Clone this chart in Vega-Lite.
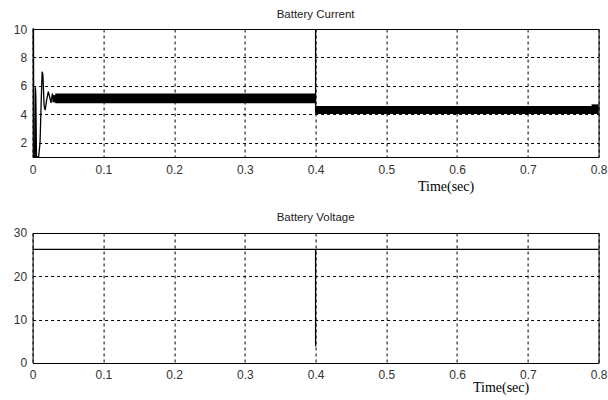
{
  "$schema": "https://vega.github.io/schema/vega-lite/v6.json",
  "autosize": {"type": "pad"},
  "padding": {"left": 12.6, "top": 8, "right": 5, "bottom": 5},
  "background": "white",
  "bounds": "flush",
  "spacing": 76,
  "datasets": {
    "curLine": [
      {"seg": "a", "i": 0, "t": 0.0, "v": 10},
      {"seg": "a", "i": 1, "t": 0.0012, "v": 10},
      {"seg": "a", "i": 2, "t": 0.0018, "v": 1.0},
      {"seg": "a", "i": 3, "t": 0.0035, "v": 1.0},
      {"seg": "a", "i": 4, "t": 0.004, "v": 5.9},
      {"seg": "a", "i": 5, "t": 0.0046, "v": 5.2},
      {"seg": "a", "i": 6, "t": 0.0055, "v": 1.0},
      {"seg": "a", "i": 7, "t": 0.0085, "v": 1.0},
      {"seg": "a", "i": 8, "t": 0.0105, "v": 2.0},
      {"seg": "a", "i": 9, "t": 0.0122, "v": 5.0},
      {"seg": "a", "i": 10, "t": 0.0135, "v": 7.0},
      {"seg": "a", "i": 11, "t": 0.0145, "v": 6.8},
      {"seg": "a", "i": 12, "t": 0.0163, "v": 4.6},
      {"seg": "a", "i": 13, "t": 0.0178, "v": 4.3},
      {"seg": "a", "i": 14, "t": 0.0198, "v": 5.0},
      {"seg": "a", "i": 15, "t": 0.0222, "v": 5.6},
      {"seg": "a", "i": 16, "t": 0.0242, "v": 5.2},
      {"seg": "a", "i": 17, "t": 0.026, "v": 4.8},
      {"seg": "a", "i": 18, "t": 0.028, "v": 5.45},
      {"seg": "a", "i": 19, "t": 0.03, "v": 4.85},
      {"seg": "b", "i": 0, "t": 0.4, "v": 4.8},
      {"seg": "b", "i": 1, "t": 0.4, "v": 10},
      {"seg": "b", "i": 2, "t": 0.4, "v": 4.05}
    ],
    "curBand": [
      {"t0": 0.028, "t1": 0.04, "lo": 4.85, "hi": 5.35},
      {"t0": 0.032, "t1": 0.4, "lo": 4.78, "hi": 5.47},
      {"t0": 0.4, "t1": 0.8, "lo": 4.02, "hi": 4.58},
      {"t0": 0.79, "t1": 0.8, "lo": 4.3, "hi": 4.7}
    ],
    "volt": [
      {"i": 0, "t": 0.0, "v": 26.2},
      {"i": 1, "t": 0.4, "v": 26.2},
      {"i": 2, "t": 0.4, "v": 3.8},
      {"i": 3, "t": 0.4, "v": 26.2},
      {"i": 4, "t": 0.8, "v": 26.2}
    ]
  },
  "config": {
    "view": {"stroke": "black", "strokeWidth": 1},
    "axis": {
      "grid": true,
      "gridColor": "black",
      "gridDash": [3, 3],
      "gridOpacity": 1,
      "gridWidth": 1,
      "domain": false,
      "ticks": false,
      "labelFlush": false,
      "labelOverlap": false,
      "labelFont": "Liberation Sans",
      "labelFontSize": 12,
      "labelColor": "#333333",
      "titleFont": "Liberation Serif",
      "titleFontSize": 14,
      "titleFontWeight": "normal",
      "titleColor": "black"
    },
    "title": {
      "font": "Liberation Sans",
      "fontSize": 11.5,
      "fontWeight": "normal",
      "color": "#222222",
      "offset": 3
    }
  },
  "vconcat": [
    {
      "width": 566,
      "height": 128,
      "title": {"text": "Battery Current"},
      "layer": [
        {
          "data": {"name": "curBand"},
          "mark": {"type": "rect", "color": "black"},
          "encoding": {
            "x": {"field": "t0", "type": "quantitative",
              "scale": {"domain": [0, 0.8], "nice": false},
              "axis": {"values": [0, 0.1, 0.2, 0.3, 0.4, 0.5, 0.6, 0.7, 0.8],
                "tickCount": 20,
                "labelExpr": "datum.value == 0 ? '0' : format(datum.value, '.1f')",
                "labelPadding": 7,
                "title": "Time(sec)", "titleX": 413, "titleY": 22,
                "titleAlign": "center", "titleBaseline": "top"}},
            "x2": {"field": "t1"},
            "y": {"field": "lo", "type": "quantitative",
              "scale": {"domain": [1, 10], "nice": false},
              "axis": {"values": [2, 4, 6, 8, 10], "tickCount": 10, "title": null, "labelPadding": 6}},
            "y2": {"field": "hi"}
          }
        },
        {
          "data": {"name": "curLine"},
          "mark": {"type": "line", "color": "black", "strokeWidth": 1.3},
          "encoding": {
            "x": {"field": "t", "type": "quantitative"},
            "y": {"field": "v", "type": "quantitative"},
            "detail": {"field": "seg"},
            "order": {"field": "i", "type": "quantitative"}
          }
        }
      ]
    },
    {
      "width": 566,
      "height": 130,
      "title": {"text": "Battery Voltage"},
      "data": {"name": "volt"},
      "mark": {"type": "line", "color": "black", "strokeWidth": 1.3},
      "encoding": {
        "x": {"field": "t", "type": "quantitative",
          "scale": {"domain": [0, 0.8], "nice": false},
          "axis": {"values": [0, 0.1, 0.2, 0.3, 0.4, 0.5, 0.6, 0.7, 0.8],
            "tickCount": 20,
            "labelExpr": "datum.value == 0 ? '0' : format(datum.value, '.1f')",
            "labelPadding": 7,
            "title": "Time(sec)", "titleX": 468, "titleY": 18,
            "titleAlign": "center", "titleBaseline": "top"}},
        "y": {"field": "v", "type": "quantitative",
          "scale": {"domain": [0, 30], "nice": false},
          "axis": {"values": [0, 10, 20, 30], "tickCount": 10, "title": null, "labelPadding": 6}},
        "order": {"field": "i", "type": "quantitative"}
      }
    }
  ]
}
